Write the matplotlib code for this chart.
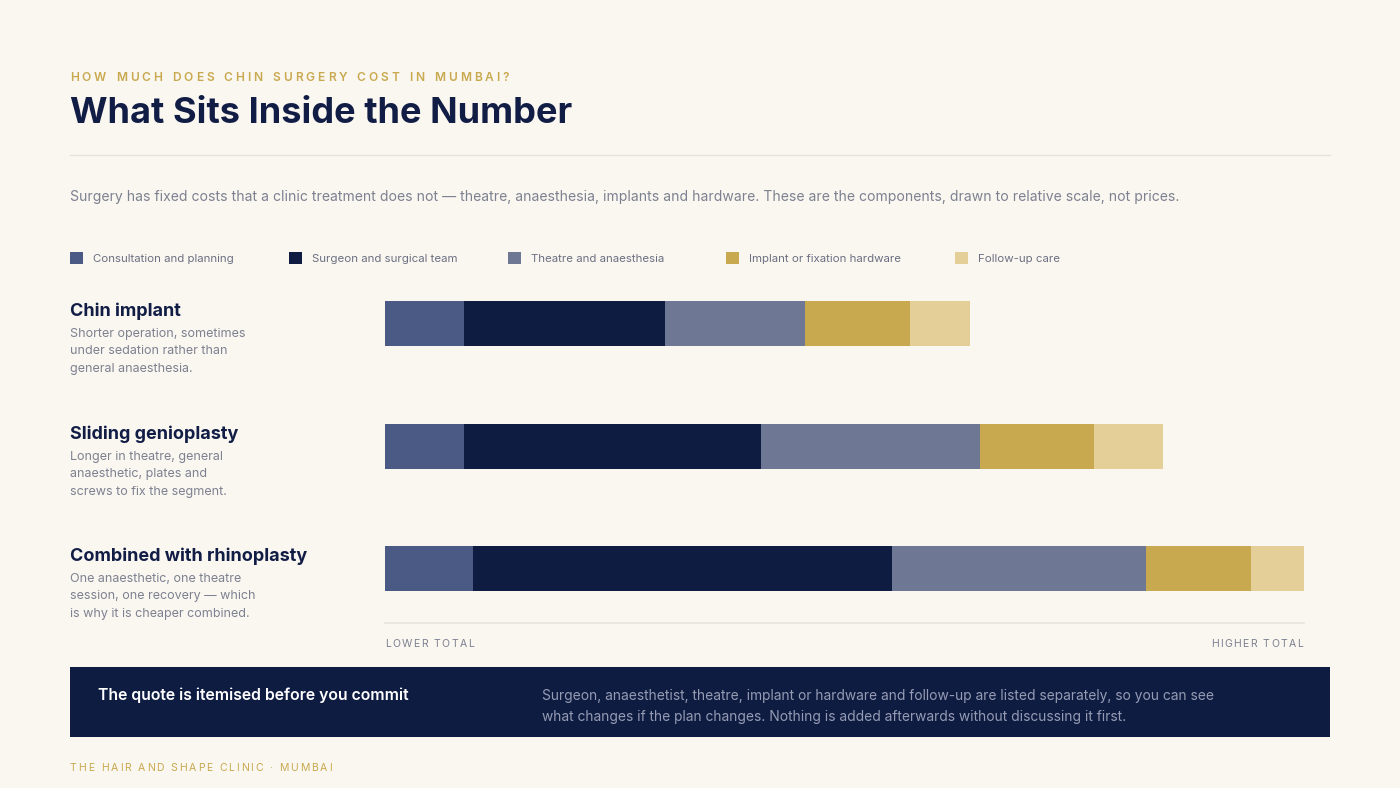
import matplotlib
matplotlib.use("Agg")
import matplotlib.pyplot as plt
from matplotlib.patches import Rectangle
import numpy as np

# ---- data ----
procedures = ["Chin implant", "Sliding genioplasty", "Combined with rhinoplasty"]
descriptions = [
    "Shorter operation, sometimes\nunder sedation rather than\ngeneral anaesthesia.",
    "Longer in theatre, general\nanaesthetic, plates and\nscrews to fix the segment.",
    "One anaesthetic, one theatre\nsession, one recovery \u2014 which\nis why it is cheaper combined.",
]
components = ["Consultation and planning", "Surgeon and surgical team",
              "Theatre and anaesthesia", "Implant or fixation hardware", "Follow-up care"]
consultation = [8.6, 8.6, 9.6]
surgeon = [21.9, 32.3, 45.6]
theatre = [15.2, 23.8, 27.6]
hardware = [11.4, 12.4, 11.4]
followup = [6.6, 7.6, 5.8]
series = [consultation, surgeon, theatre, hardware, followup]

colors = ["#4a5a85", "#0f1c42", "#6e7793", "#c9a94f", "#e3cf97"]
BG = "#faf7f1"
NAVY = "#111d45"
GOLD = "#c9a94f"
GRAY = "#7d8190"

W, H = 1400, 788
fig = plt.figure(figsize=(W / 100, H / 100), dpi=100, facecolor=BG)
FONT = ["Inter", "DejaVu Sans"]
plt.rcParams["font.family"] = FONT

# overlay axes in pixel coordinates
ov = fig.add_axes([0, 0, 1, 1], zorder=0)
ov.set_xlim(0, W)
ov.set_ylim(H, 0)
ov.axis("off")
ov.set_facecolor(BG)

def pt(px):
    return px * 0.72

renderer = fig.canvas.get_renderer()

def spaced(x, y, s, size, color, spacing, weight="normal", va="center"):
    cx = x
    for ch in s:
        t = ov.text(cx, y, ch, fontsize=size, color=color, weight=weight, va=va, ha="left")
        bb = t.get_window_extent(renderer=renderer)
        w = bb.width if ch != " " else size * 0.3 / 0.72
        if ch == " ":
            t.remove()
        cx += w + spacing

def spaced_width(s, size, spacing):
    tot = 0
    for ch in s:
        if ch == " ":
            tot += size * 0.3 / 0.72 + spacing
            continue
        t = ov.text(0, 0, ch, fontsize=size)
        tot += t.get_window_extent(renderer=renderer).width + spacing
        t.remove()
    return tot - spacing

# header
spaced(70, 78, "HOW MUCH DOES CHIN SURGERY COST IN MUMBAI?", pt(12), GOLD, 3.0, weight="semibold")
ov.text(70, 113, "What Sits Inside the Number", fontsize=pt(36.2), color=NAVY, weight="bold", va="center")
ov.plot([70, 1330], [155, 155], color="#e6e2da", lw=1)
ov.text(70, 197, "Surgery has fixed costs that a clinic treatment does not \u2014 theatre, anaesthesia, implants and hardware. "
        "These are the components, drawn to relative scale, not prices.",
        fontsize=pt(14), color=GRAY, va="center")

# legend
leg_x = [70, 289, 508, 726, 955]
for lx, lab, c in zip(leg_x, components, colors):
    ov.add_patch(Rectangle((lx, 252), 13, 12, color=c, lw=0))
    ov.text(lx + 23, 259.5, lab, fontsize=pt(11.5), color="#6b6f80", va="center")

# left labels
centers_px = [311, 434, 556]
for cy, name, desc in zip(centers_px, procedures, descriptions):
    ov.text(70, cy, name, fontsize=pt(18), color=NAVY, weight="bold", va="center")
    ov.text(70, cy + 17, desc, fontsize=pt(12.5), color=GRAY, va="top", linespacing=1.6)

# bars axes
x0, x1 = 385, 1304
ytop, ybot = 290, 623
ax = fig.add_axes([x0 / W, 1 - ybot / H, (x1 - x0) / W, (ybot - ytop) / H], zorder=1)
ax.set_facecolor("none")
spacing = 122.5
first = 323.5
ax.set_ylim((ybot - first) / spacing, (ytop - first) / spacing)
total_max = max(np.sum(series, axis=0))
ax.set_xlim(0, total_max)
ypos = np.arange(len(procedures))
left = np.zeros(len(procedures))
for vals, c in zip(series, colors):
    ax.barh(ypos, vals, left=left, height=45 / spacing, color=c, lw=0)
    left += np.array(vals)
for s in ["top", "right", "left"]:
    ax.spines[s].set_visible(False)
ax.spines["bottom"].set_color("#e8e4dc")
ax.spines["bottom"].set_linewidth(1.2)
ax.set_xticks([])
ax.set_yticks([])

spaced(385, 644, "LOWER TOTAL", pt(10.5), "#7d8190", 1.4)
wr = spaced_width("HIGHER TOTAL", pt(10.5), 1.4)
spaced(1303 - wr, 644, "HIGHER TOTAL", pt(10.5), "#7d8190", 1.4)

# footer box
ov.add_patch(Rectangle((70, 667), 1260, 70, color="#0f1c42", lw=0))
ov.text(98, 695, "The quote is itemised before you commit", fontsize=pt(15.8), color="white",
        weight="semibold", va="center")
ov.text(542, 696, "Surgeon, anaesthetist, theatre, implant or hardware and follow-up are listed separately, so you can see",
        fontsize=pt(13.8), color="#959bb3", va="center")
ov.text(542, 717, "what changes if the plan changes. Nothing is added afterwards without discussing it first.",
        fontsize=pt(13.8), color="#959bb3", va="center")

spaced(70, 768, "THE HAIR AND SHAPE CLINIC \u00b7 MUMBAI", pt(10.5), GOLD, 1.8)

fig.savefig("out.png", dpi=100, facecolor=BG)
